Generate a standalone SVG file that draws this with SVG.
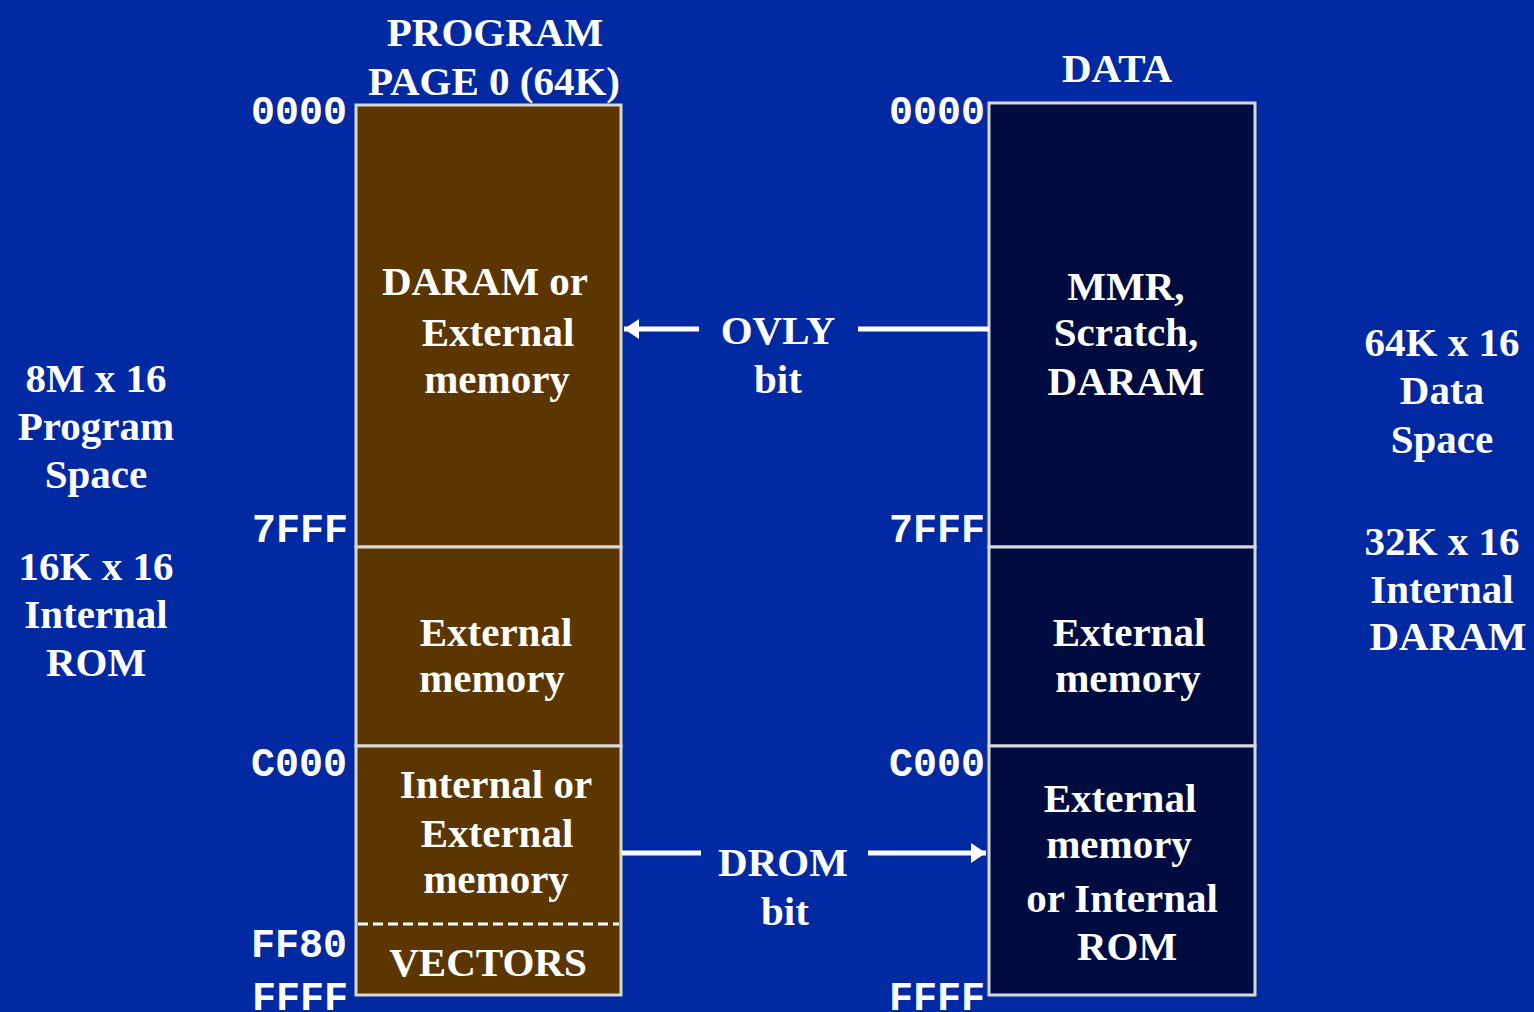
<svg xmlns="http://www.w3.org/2000/svg" width="1534" height="1012" viewBox="0 0 1534 1012">
<style>
.t{font-family:"Liberation Serif","Times New Roman",serif;font-weight:bold;font-size:41px;fill:#fff;text-anchor:middle}
.a{font-family:"Liberation Mono","Courier New",monospace;font-weight:bold;font-size:40px;fill:#fff;text-anchor:end}
.box{stroke:#d8d8d8;stroke-width:3}
.p{fill:#5c3600}
.d{fill:#000c40}
.ln{stroke:#fff;stroke-width:5;fill:none}
</style>
<defs>
<marker id="ah" markerWidth="4" markerHeight="4" refX="3" refY="2" orient="auto" markerUnits="strokeWidth">
<path d="M0,0 L3,2 L0,4 Z" fill="#fff"/>
</marker>
</defs>
<rect width="1534" height="1012" fill="#0029a2"/>
<text class="t" x="495" y="46">PROGRAM</text>
<text class="t" x="494" y="95">PAGE 0 (64K)</text>
<text class="t" x="1117" y="82">DATA</text>
<g id="left-labels">
<text class="t" x="96" y="392">8M x 16</text>
<text class="t" x="96" y="440">Program</text>
<text class="t" x="96" y="488">Space</text>
<text class="t" x="96" y="580">16K x 16</text>
<text class="t" x="96" y="628">Internal</text>
<text class="t" x="96" y="676">ROM</text>
</g>
<g id="right-labels">
<text class="t" x="1442" y="356">64K x 16</text>
<text class="t" x="1442" y="404">Data</text>
<text class="t" x="1442" y="453">Space</text>
<text class="t" x="1442" y="555">32K x 16</text>
<text class="t" x="1442" y="603">Internal</text>
<text class="t" x="1448" y="650">DARAM</text>
</g>
<g id="addresses">
<text class="a" x="347" y="124">0000</text>
<text class="a" x="348" y="542">7FFF</text>
<text class="a" x="347" y="776">C000</text>
<text class="a" x="347" y="957">FF80</text>
<text class="a" x="348" y="1010">FFFF</text>
<text class="a" x="985" y="124">0000</text>
<text class="a" x="985" y="542">7FFF</text>
<text class="a" x="985" y="776">C000</text>
<text class="a" x="985" y="1010">FFFF</text>
</g>
<g id="prog-1">
<rect class="box p" x="356" y="105" width="265" height="442"/>
<text class="t" x="485" y="295">DARAM or</text>
<text class="t" x="498" y="346">External</text>
<text class="t" x="497" y="393">memory</text>
</g>
<g id="prog-2">
<rect class="box p" x="356" y="547" width="265" height="199"/>
<text class="t" x="496" y="646">External</text>
<text class="t" x="492" y="692">memory</text>
</g>
<g id="prog-3">
<rect class="box p" x="356" y="746" width="265" height="249"/>
<text class="t" x="496" y="798">Internal or</text>
<text class="t" x="497" y="847">External</text>
<text class="t" x="496" y="893">memory</text>
<line x1="358" y1="924" x2="619" y2="924" stroke="#fff" stroke-width="3" stroke-dasharray="10,5"/>
<text class="t" x="488" y="976">VECTORS</text>
</g>
<g id="data-1">
<rect class="box d" x="989" y="103" width="266" height="444"/>
<text class="t" x="1126" y="300">MMR,</text>
<text class="t" x="1126" y="346">Scratch,</text>
<text class="t" x="1126" y="395">DARAM</text>
</g>
<g id="data-2">
<rect class="box d" x="989" y="547" width="266" height="199"/>
<text class="t" x="1129" y="646">External</text>
<text class="t" x="1128" y="692">memory</text>
</g>
<g id="data-3">
<rect class="box d" x="989" y="746" width="266" height="249"/>
<text class="t" x="1120" y="812">External</text>
<text class="t" x="1119" y="858">memory</text>
<text class="t" x="1122" y="912">or Internal</text>
<text class="t" x="1127" y="960">ROM</text>
</g>
<g id="connectors">
<line class="ln" x1="989" y1="329" x2="858" y2="329"/>
<line class="ln" x1="699" y1="329" x2="624" y2="329" marker-end="url(#ah)"/>
<text class="t" x="778" y="344">OVLY</text>
<text class="t" x="778" y="393">bit</text>
<line class="ln" x1="622" y1="853" x2="701" y2="853"/>
<line class="ln" x1="868" y1="853" x2="986" y2="853" marker-end="url(#ah)"/>
<text class="t" x="783" y="876">DROM</text>
<text class="t" x="785" y="925">bit</text>
</g>
</svg>
